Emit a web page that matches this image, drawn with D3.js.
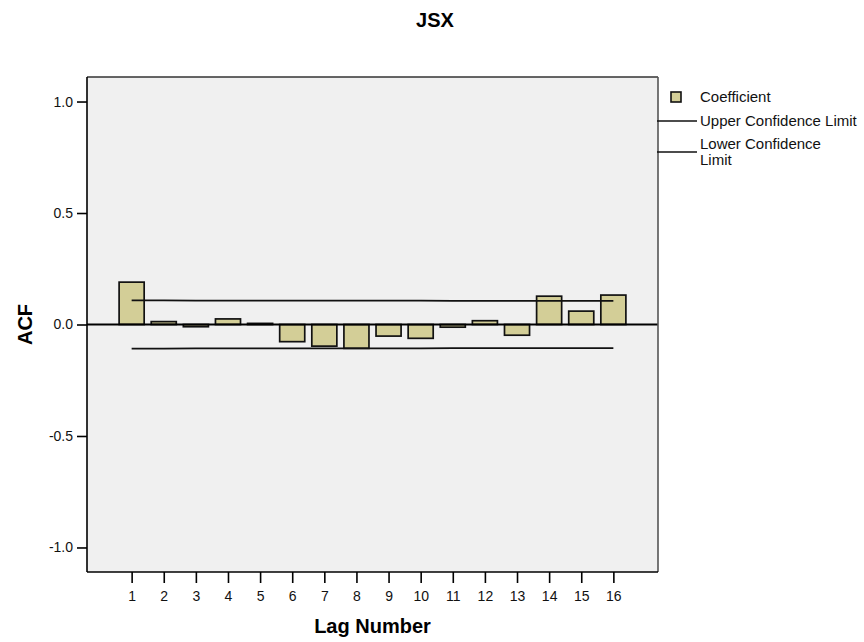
<!DOCTYPE html>
<html>
<head>
<meta charset="utf-8">
<script src="https://cdn.jsdelivr.net/npm/d3@7"></script>
<style>
  html, body { margin: 0; padding: 0; background: #ffffff; }
  svg { display: block; font-family: "Liberation Sans", Arial, Helvetica, sans-serif; }
</style>
</head>
<body>
<svg id="chart" width="864" height="642"></svg>
<script>
// ---- Data ----
const title = "JSX";
const lags = [1, 2, 3, 4, 5, 6, 7, 8, 9, 10, 11, 12, 13, 14, 15, 16];
const coefficient = [0.190, 0.013, -0.010, 0.025, 0.005, -0.077, -0.097, -0.107,
                     -0.052, -0.062, -0.012, 0.017, -0.048, 0.127, 0.060, 0.132];
const upperLimit = [0.108, 0.108, 0.107, 0.107, 0.107, 0.107, 0.107, 0.107,
                    0.107, 0.107, 0.106, 0.106, 0.106, 0.106, 0.106, 0.106];
const lowerLimit = [-0.108, -0.108, -0.107, -0.107, -0.107, -0.107, -0.107, -0.107,
                    -0.107, -0.107, -0.106, -0.106, -0.106, -0.106, -0.106, -0.106];
const yTicks = [-1.0, -0.5, 0.0, 0.5, 1.0];
const xLabel = "Lag Number";
const yLabel = "ACF";
const legendLabels = ["Coefficient", "Upper Confidence Limit", ["Lower Confidence", "Limit"]];

// ---- Layout ----
const plot = { left: 87, right: 658, top: 77, bottom: 572 };
const barFill = "#d3ce97";

const svg = d3.select("#chart");

const x = d3.scaleLinear().domain([-0.39, 17.39]).range([plot.left, plot.right]);
const y = d3.scaleLinear().domain([-1.11, 1.11]).range([plot.bottom, plot.top]);

// plot background
svg.append("rect")
  .attr("x", plot.left).attr("y", plot.top)
  .attr("width", plot.right - plot.left).attr("height", plot.bottom - plot.top)
  .attr("fill", "#f0f0f0");

// bars
const halfW = 0.39;
svg.append("g").selectAll("rect")
  .data(lags.map((l, i) => ({ lag: l, v: coefficient[i] })))
  .join("rect")
  .attr("x", d => x(d.lag - halfW))
  .attr("width", d => x(d.lag + halfW) - x(d.lag - halfW))
  .attr("y", d => Math.min(y(d.v), y(0)))
  .attr("height", d => Math.abs(y(d.v) - y(0)))
  .attr("fill", barFill)
  .attr("stroke", "#111")
  .attr("stroke-width", 1.7);

// zero line
svg.append("line")
  .attr("x1", plot.left).attr("x2", plot.right)
  .attr("y1", y(0)).attr("y2", y(0))
  .attr("stroke", "#000").attr("stroke-width", 1.8);

// confidence limits
const line = d3.line().x(d => x(d[0])).y(d => y(d[1]));
svg.append("path")
  .attr("d", line(lags.map((l, i) => [l, upperLimit[i]])))
  .attr("fill", "none").attr("stroke", "#111").attr("stroke-width", 1.8);
svg.append("path")
  .attr("d", line(lags.map((l, i) => [l, lowerLimit[i]])))
  .attr("fill", "none").attr("stroke", "#111").attr("stroke-width", 1.8);

// frame: top & right
svg.append("line")
  .attr("x1", plot.left).attr("x2", plot.right)
  .attr("y1", plot.top).attr("y2", plot.top)
  .attr("stroke", "#333").attr("stroke-width", 1.3);
svg.append("line")
  .attr("x1", plot.right).attr("x2", plot.right)
  .attr("y1", plot.top).attr("y2", plot.bottom)
  .attr("stroke", "#555").attr("stroke-width", 1.6);

// y axis
const yAxis = d3.axisLeft(y).tickValues(yTicks).tickFormat(d => d.toFixed(1))
  .tickSize(10).tickPadding(4);
const gy = svg.append("g").attr("transform", `translate(${plot.left},0)`).call(yAxis);
gy.select(".domain").attr("stroke", "#000").attr("stroke-width", 1.6)
  .attr("d", `M0,${plot.top}V${plot.bottom}`);
gy.selectAll(".tick line").attr("stroke", "#000").attr("stroke-width", 1.6);
gy.selectAll(".tick text").attr("font-size", 14).attr("fill", "#111")
  .attr("font-family", "'Liberation Sans', Arial, sans-serif");

// x axis
const xAxis = d3.axisBottom(x).tickValues(lags).tickFormat(d3.format("d"))
  .tickSize(11).tickPadding(8);
const gx = svg.append("g").attr("transform", `translate(0,${plot.bottom})`).call(xAxis);
gx.select(".domain").attr("stroke", "#000").attr("stroke-width", 1.6)
  .attr("d", `M${plot.left},0H${plot.right}`);
gx.selectAll(".tick line").attr("stroke", "#000").attr("stroke-width", 1.6);
gx.selectAll(".tick text").attr("font-size", 14).attr("fill", "#111")
  .attr("font-family", "'Liberation Sans', Arial, sans-serif");

// titles
svg.append("text").attr("x", 435).attr("y", 27).attr("text-anchor", "middle")
  .attr("font-size", 20).attr("font-weight", "bold").attr("fill", "#000").text(title);
svg.append("text").attr("x", (plot.left + plot.right) / 2).attr("y", 633)
  .attr("text-anchor", "middle")
  .attr("font-size", 20).attr("font-weight", "bold").attr("fill", "#000").text(xLabel);
svg.append("text")
  .attr("transform", `translate(32,${(plot.top + plot.bottom) / 2}) rotate(-90)`)
  .attr("text-anchor", "middle")
  .attr("font-size", 20).attr("font-weight", "bold").attr("fill", "#000").text(yLabel);

// legend
const lg = svg.append("g");
lg.append("rect").attr("x", 671).attr("y", 92).attr("width", 10).attr("height", 10)
  .attr("fill", barFill).attr("stroke", "#111").attr("stroke-width", 1.6);
lg.append("text").attr("x", 700).attr("y", 102).attr("font-size", 15).attr("fill", "#111")
  .text(legendLabels[0]);
lg.append("line").attr("x1", 657).attr("x2", 697).attr("y1", 121).attr("y2", 121)
  .attr("stroke", "#111").attr("stroke-width", 1.6);
lg.append("text").attr("x", 700).attr("y", 126).attr("font-size", 15).attr("fill", "#111")
  .text(legendLabels[1]);
lg.append("line").attr("x1", 657).attr("x2", 697).attr("y1", 152).attr("y2", 152)
  .attr("stroke", "#111").attr("stroke-width", 1.6);
const t3 = lg.append("text").attr("x", 700).attr("y", 149).attr("font-size", 15).attr("fill", "#111");
t3.selectAll("tspan").data(legendLabels[2]).join("tspan")
  .attr("x", 700).attr("dy", (d, i) => i === 0 ? 0 : 16).text(d => d);
</script>
</body>
</html>
